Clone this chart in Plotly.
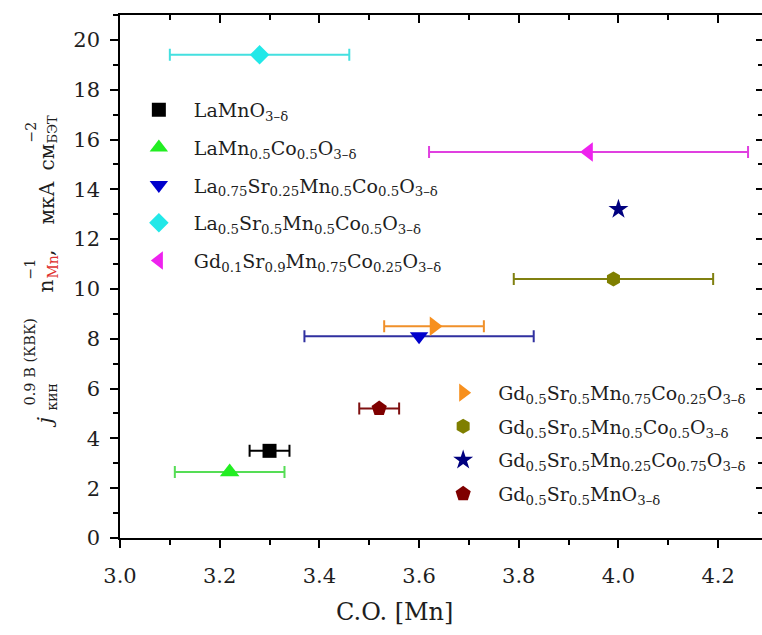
import plotly.graph_objects as go

# ---- data ----
names = [
    "LaMnO<sub>3–δ</sub>",
    "LaMn<sub>0.5</sub>Co<sub>0.5</sub>O<sub>3–δ</sub>",
    "La<sub>0.75</sub>Sr<sub>0.25</sub>Mn<sub>0.5</sub>Co<sub>0.5</sub>O<sub>3–δ</sub>",
    "La<sub>0.5</sub>Sr<sub>0.5</sub>Mn<sub>0.5</sub>Co<sub>0.5</sub>O<sub>3–δ</sub>",
    "Gd<sub>0.1</sub>Sr<sub>0.9</sub>Mn<sub>0.75</sub>Co<sub>0.25</sub>O<sub>3–δ</sub>",
    "Gd<sub>0.5</sub>Sr<sub>0.5</sub>Mn<sub>0.75</sub>Co<sub>0.25</sub>O<sub>3–δ</sub>",
    "Gd<sub>0.5</sub>Sr<sub>0.5</sub>Mn<sub>0.5</sub>Co<sub>0.5</sub>O<sub>3–δ</sub>",
    "Gd<sub>0.5</sub>Sr<sub>0.5</sub>Mn<sub>0.25</sub>Co<sub>0.75</sub>O<sub>3–δ</sub>",
    "Gd<sub>0.5</sub>Sr<sub>0.5</sub>MnO<sub>3–δ</sub>",
]
co_mn = [3.30, 3.22, 3.60, 3.28, 3.94, 3.63, 3.99, 4.00, 3.52]
j_kin = [3.5, 2.65, 8.1, 19.4, 15.5, 8.5, 10.4, 13.2, 5.2]
co_err = [0.04, 0.11, 0.23, 0.18, 0.32, 0.10, 0.20, 0.0, 0.04]
legend_of = ["legend"] * 5 + ["legend2"] * 4

x_range = [3.0, 4.288]
y_range = [0, 21]

symbols = ["square", "triangle-up", "triangle-down", "diamond", "triangle-left",
           "triangle-right", "hexagon", "star", "pentagon"]
sizes = [14, 17, 16, 15, 17, 17, 15, 15, 16]
colors = ["#000000", "#22EE22", "#0000CC", "#22E8E8", "#EE22EE",
          "#F7901E", "#7F7F00", "#00007F", "#7F0000"]
err_colors = ["#000000", "#55DD55", "#3030A0", "#44E0E0", "#E040E0",
              "#F0902A", "#808010", "#00007F", "#7F1010"]

FONT = "DejaVu Serif"
TXT = "#1E1E1E"
RED = "#E03030"

fig = go.Figure()
for i in range(len(names)):
    fig.add_trace(go.Scatter(
        x=[co_mn[i]], y=[j_kin[i]], mode="markers", name=names[i],
        legend=legend_of[i], legendgroup=str(i),
        marker=dict(symbol=symbols[i], size=sizes[i], color=colors[i],
                    line=dict(width=0)),
        error_x=dict(type="constant", value=co_err[i], visible=co_err[i] > 0,
                     color=err_colors[i], thickness=2, width=6),
        hoverinfo="x+y",
    ))

# invisible copies on the mirror axes so the top/right frame axes get drawn
fig.add_trace(go.Scatter(
    x=co_mn, y=j_kin, xaxis="x2", yaxis="y", mode="markers",
    marker=dict(opacity=0), showlegend=False, hoverinfo="skip",
))
fig.add_trace(go.Scatter(
    x=co_mn, y=j_kin, xaxis="x", yaxis="y2", mode="markers",
    marker=dict(opacity=0), showlegend=False, hoverinfo="skip",
))

axis_common = dict(showgrid=False, zeroline=False, linecolor="black", linewidth=1.5,
                   tickcolor="black", tickwidth=1.5, automargin=False)

fig.update_layout(
    width=762, height=635,
    margin=dict(l=120, r=0, t=15, b=97),
    paper_bgcolor="white", plot_bgcolor="white",
    font=dict(family=FONT, size=21, color=TXT),
    xaxis=dict(range=x_range, dtick=0.2, tick0=3.0, tickformat=".1f",
               ticks="outside", ticklen=8, showline=True, ticklabelstandoff=10,
               minor=dict(ticks="outside", ticklen=5, dtick=0.1, tickcolor="black"),
               **axis_common),
    yaxis=dict(range=y_range, dtick=2, tick0=0,
               ticks="outside", ticklen=8, showline=True, ticklabelstandoff=6,
               minor=dict(ticks="outside", ticklen=5, dtick=1, tickcolor="black"),
               **axis_common),
    xaxis2=dict(overlaying="x", side="top", anchor="y", range=x_range,
                dtick=0.2, tick0=3.0, ticks="inside", ticklen=8, showline=True,
                showticklabels=False,
                minor=dict(ticks="inside", ticklen=5, dtick=0.1, tickcolor="black"),
                **axis_common),
    yaxis2=dict(overlaying="y", side="right", anchor="x", range=y_range,
                dtick=2, tick0=0, ticks="inside", ticklen=6, showline=False,
                showticklabels=False,
                minor=dict(ticks="inside", ticklen=4, dtick=1, tickcolor="black"),
                showgrid=False, zeroline=False, tickcolor="black", tickwidth=1.5,
                automargin=False),
    legend=dict(x=0.006, y=0.855, xanchor="left", yanchor="top", bgcolor="rgba(0,0,0,0)",
                itemwidth=60, tracegroupgap=10, font=dict(family=FONT, size=19, color=TXT)),
    legend2=dict(x=0.48, y=0.314, xanchor="left", yanchor="top", bgcolor="rgba(0,0,0,0)",
                 itemwidth=60, tracegroupgap=6, font=dict(family=FONT, size=19, color=TXT)),
    showlegend=True,
)

fig.add_annotation(
    text="C.O. [Mn]", xref="paper", yref="paper", x=0.428, y=-0.1415,
    xanchor="center", yanchor="middle", showarrow=False,
    font=dict(family=FONT, size=24, color=TXT),
)

# ---- y-axis title, built from pieces so that sub/superscripts stack ----
PLOT_L, PLOT_W, PLOT_B, PLOT_H = 120, 642, 538, 523


def px_x(px):
    return (px - PLOT_L) / PLOT_W


def px_y(py):
    return (PLOT_B - py) / PLOT_H


MAIN_X, SUP_X, SUB_X = 46, 29, 52
title_pieces = [
    # text, font size, centre x (px), bottom y (px), colour
    ("<i>j</i>", 21, MAIN_X - 2, 428, TXT),
    ("кин", 14, SUB_X, 411, TXT),
    ("0.9 В (КВК)", 14.5, SUP_X, 406, TXT),
    ("n", 20, MAIN_X, 293, TXT),
    ("−1", 14, SUP_X + 1, 280, TXT),
    ("Mn", 14, SUB_X, 279, RED),
    (",", 20, MAIN_X, 256, TXT),
    ("мкА", 20, MAIN_X, 225, TXT),
    ("см", 20, MAIN_X, 171, TXT),
    ("−2", 14, SUP_X + 1, 143, TXT),
    ("БЭТ", 13, SUB_X, 144, TXT),
]
for text, size, cx, by, col in title_pieces:
    fig.add_annotation(
        text=text, xref="paper", yref="paper", x=px_x(cx), y=px_y(by),
        textangle=-90, xanchor="center", yanchor="bottom", showarrow=False,
        borderpad=0, borderwidth=0,
        font=dict(family=FONT, size=size, color=col),
    )

fig.write_html(
    "out.html",
    config={"displayModeBar": False},
    post_script="document.body.style.margin='0';document.body.style.overflow='hidden';",
)
